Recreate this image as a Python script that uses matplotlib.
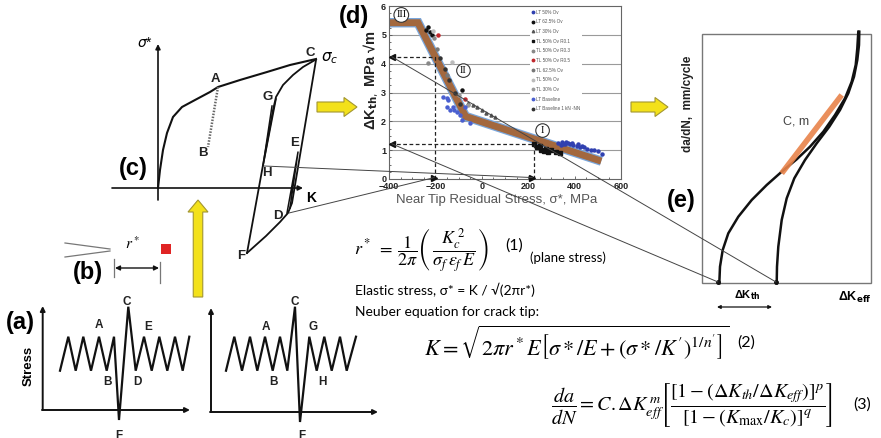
import matplotlib
matplotlib.use('Agg')
import matplotlib.pyplot as plt
from matplotlib.patches import FancyArrow, Rectangle, ConnectionPatch

plt.rcParams['font.family'] = ['Liberation Sans', 'DejaVu Sans']
plt.rcParams['mathtext.fontset'] = 'dejavusans'

W, H = 881, 438

# ---------------- (d) data ----------------
x_ticks = [-400, -200, 0, 200, 400, 600]
y_ticks = [0, 1, 2, 3, 4, 5, 6]
grid_levels = [1, 2, 3, 4, 5]
fit_x = [-400, -275, -70, 515]
fit_y = [5.42, 5.42, 2.17, 0.62]

lt50_x = [330, 345, 360, 370, 380, 395, 410, 425, 440, 455, 470, 485, 500, 520, 350, 365, 390, 415, 340, 430]
lt50_y = [1.25, 1.28, 1.22, 1.26, 1.20, 1.18, 1.15, 1.12, 1.10, 1.05, 1.02, 1.00, 0.98, 0.88, 1.20, 1.30, 1.24, 1.20, 1.18, 1.16]
lt625_x = [-231, -222, -214, -240, -84]
lt625_y = [5.28, 5.10, 4.99, 5.18, 3.09]
lt30_x = [-58, -40, -20, 0, 20, 40, 59]
lt30_y = [2.64, 2.58, 2.48, 2.40, 2.30, 2.22, 2.15]
tl50r01_x = [225, 240, 255, 268, 285, 300, 318, 335, 250, 278]
tl50r01_y = [1.20, 1.10, 1.02, 0.96, 0.92, 1.00, 0.95, 0.90, 1.15, 1.05]
tl50r03_x = [-231, -205]
tl50r03_y = [4.03, 4.90]
tl50r05_x = [-188, -72]
tl50r05_y = [5.00, 2.78]
tl625_x = [-195, -150]
tl625_y = [4.50, 3.60]
tl50_x = [-127, -210]
tl50_y = [4.06, 5.15]
tl30_x = [-100, -60]
tl30_y = [2.90, 2.55]
ltbase_x = [-166, -149, -123, -136, -106, -93, -86, -50, -72, -144, -151, -120]
ltbase_y = [2.85, 2.81, 2.50, 2.40, 2.33, 2.22, 2.05, 1.94, 2.51, 2.75, 2.51, 2.40]
ltbase1k_x = [-180, -160, -140, -115, -95]
ltbase1k_y = [4.20, 3.80, 3.45, 3.00, 2.60]

series = [
    ('LT 50% Ov', lt50_x, lt50_y, '#3040b0', 'o'),
    ('LT 62.5% Ov', lt625_x, lt625_y, '#111111', 'o'),
    ('LT 30% Ov', lt30_x, lt30_y, '#555555', '^'),
    ('TL 50% Ov R0.1', tl50r01_x, tl50r01_y, '#111111', 's'),
    ('TL 50% Ov R0.3', tl50r03_x, tl50r03_y, '#888888', 'o'),
    ('TL 50% Ov R0.5', tl50r05_x, tl50r05_y, '#c0282d', 'o'),
    ('TL 62.5% Ov', tl625_x, tl625_y, '#777777', 'o'),
    ('TL 50% Ov', tl50_x, tl50_y, '#bbbbbb', 'o'),
    ('TL 30% Ov', tl30_x, tl30_y, '#999999', 'o'),
    ('LT Baseline', ltbase_x, ltbase_y, '#4a5fd0', 'o'),
    ('LT Baseline 1 kN -NN', ltbase1k_x, ltbase1k_y, '#333333', 'o'),
]

regime_labels = ['III', 'II', 'I']
regime_x = [-347, -79, 262]
regime_y = [5.69, 3.76, 1.68]

# ---------------- schematic data (pixel units) ----------------
# (a) load histories
lo_a, hi_a, c_a, f_a = 370.7, 336.7, 306.7, 420.0
a1_x = [60, 68.3, 75.7, 83.3, 91, 99, 106.7, 114, 119, 128.3, 135.7, 144, 151.7, 159.3, 167.3, 175, 182.7, 189.3]
a1_y = [lo_a, hi_a, lo_a, hi_a, lo_a, hi_a, lo_a, hi_a, f_a, c_a, lo_a, hi_a, lo_a, hi_a, lo_a, hi_a, lo_a, hi_a]
a2_x = [226, 234.3, 242, 250, 257.3, 265, 272.7, 280, 287.3, 295, 300, 309.3, 316.7, 324.3, 331.7, 340, 346.7, 356]
a2_y = [lo_a, hi_a, lo_a, hi_a, lo_a, hi_a, lo_a, hi_a, lo_a, c_a, f_a + 2, hi_a, lo_a, hi_a, lo_a, hi_a, lo_a, hi_a]

# (c) crack-tip stress vs K
c_mono_x = [158, 160, 163, 167, 173, 182, 195, 210, 218, 240, 267, 290, 316]
c_mono_y = [188, 170, 150, 133, 117, 107, 100, 92, 87, 80, 72, 65, 59]
c_ab_x = [218, 208]
c_ab_y = [87, 147]
c_unload_x = [316, 292, 288, 280, 266, 247]
c_unload_y = [60, 203, 213, 222, 236, 253]
c_reload_x = [247, 273, 276, 283, 293, 303, 315]
c_reload_y = [253, 110, 97, 85, 75, 67, 60]
c_gh_x = [276, 263, 272]
c_gh_y = [99, 166, 106]
c_ed_x = [287, 298, 290]
c_ed_y = [213, 152, 208]

# (e) crack growth curves
e_left_x = [719.3, 720, 722.7, 728.3, 738.3, 751.7, 766.7, 781.7, 796.7, 810, 823.3, 835, 845, 851.7, 855.7, 857.3, 858.3]
e_left_y = [283.3, 266.7, 250, 233.3, 216.7, 200, 185, 171.7, 159.3, 146.7, 131.7, 115, 98.3, 81.7, 65, 48.3, 31.7]
e_right_x = [776.7, 777, 778.3, 781.7, 786.7, 794.3, 805, 816.7, 829.3, 840, 848.3, 854, 857.3, 859, 859.3]
e_right_y = [283.3, 266.7, 246.7, 220, 198.3, 178.3, 160, 143.3, 126.7, 110, 93.3, 76.7, 60, 45, 31.7]
e_fit_x = [781.7, 841.7]
e_fit_y = [173.3, 95]

fig = plt.figure(figsize=(8.81, 4.38), dpi=100)
fig.patch.set_facecolor('white')


def fig_rect(x0, y0, x1, y1):
    return [x0 / W, 1 - y1 / H, (x1 - x0) / W, (y1 - y0) / H]


# ================= panel (d) =================
axd = fig.add_axes(fig_rect(389, 6, 621, 179))
axd.set_xlim(-400, 600)
axd.set_ylim(0, 6)
for g in grid_levels:
    axd.axhline(g, color='#9a9a9a', lw=0.8, zorder=0)
axd.plot(fit_x, fit_y, color='#7aa7dc', lw=6.8, solid_capstyle='butt', solid_joinstyle='miter', zorder=2)
axd.plot(fit_x, fit_y, color='#a3683e', lw=5.0, solid_capstyle='butt', solid_joinstyle='miter', zorder=2.1)
handles = []
for name, xs, ys, col, mk in series:
    h, = axd.plot(xs, ys, linestyle='none', marker=mk, ms=2.2, color=col, mec=col, label=name, zorder=3)
    handles.append(h)
axd.set_xticks(x_ticks)
axd.set_yticks(y_ticks)
axd.set_xticks(range(-400, 601, 50), minor=True)
axd.set_yticks([i * 0.25 for i in range(25)], minor=True)
axd.tick_params(which='both', direction='in', length=2.5, width=0.6, colors='#555555')
axd.tick_params(which='minor', length=1.5)
axd.tick_params(axis='x', pad=2.5)
axd.tick_params(axis='y', pad=2)
for lab in axd.get_xticklabels() + axd.get_yticklabels():
    lab.set_fontsize(6.5)
    lab.set_fontweight('bold')
    lab.set_color('#222222')
for sp in axd.spines.values():
    sp.set_color('#666666')
    sp.set_linewidth(0.8)
leg = axd.legend(handles=handles, loc='upper left', bbox_to_anchor=(0.608, 0.99), fontsize=3.3,
                 frameon=True, facecolor='white', edgecolor='none', framealpha=1, handlelength=0.6,
                 handletextpad=0.3, labelspacing=1.02, borderpad=0.4, markerscale=0.8, borderaxespad=0)
for t in leg.get_texts():
    t.set_color('#555555')
leg.set_zorder(4)
for lab, x, y in zip(regime_labels, regime_x, regime_y):
    axd.text(x, y, lab, fontsize=7.5, family='Liberation Serif', ha='center', va='center', zorder=6,
             bbox=dict(boxstyle='circle,pad=0.22', fc='white', ec='#333333', lw=0.8), clip_on=False)
# dashed guide lines
axd.plot([-200, -200, -395], [0, 4.24, 4.24], color='#222222', lw=0.9, ls=(0, (3, 2)), zorder=5)
axd.plot([225, 225, -395], [0, 1.22, 1.22], color='#222222', lw=0.9, ls=(0, (3, 2)), zorder=5)
axd.plot([-388, -388], [4.24, 1.22], linestyle='none', marker='<', ms=4, color='#111111', zorder=6, clip_on=False)
axd.plot([-205, 218], [0.05, 0.05], linestyle='none', marker='>', ms=4, color='#111111', zorder=6, clip_on=False)

# ================= overlay (pixel units) =================
ov = fig.add_axes([0, 0, 1, 1])
ov.set_xlim(0, W)
ov.set_ylim(H, 0)
ov.axis('off')
ov.patch.set_visible(False)
ov.set_zorder(5)

K = '#111111'


def arrow(x0, y0, x1, y1, lw=1.0, ms=7, color=K, style='-|>'):
    ov.annotate('', xy=(x1, y1), xytext=(x0, y0),
                arrowprops=dict(arrowstyle=style, lw=lw, color=color, mutation_scale=ms,
                                shrinkA=0, shrinkB=0))


# --- (a) ---
arrow(42.7, 410, 42.7, 306, lw=1.4, ms=7)
arrow(42, 410, 190, 410, lw=1.4, ms=7)
ov.plot(a1_x, a1_y, color=K, lw=1.6, solid_joinstyle='miter')
arrow(211, 412, 211, 308, lw=1.4, ms=7)
arrow(210, 412, 378, 412, lw=1.4, ms=7)
ov.plot(a2_x, a2_y, color=K, lw=1.6, solid_joinstyle='miter')
lab_a = [('A', 99, 325), ('B', 108, 382), ('C', 127, 302), ('E', 148, 327), ('D', 137, 382), ('F', 119, 436),
         ('A', 266, 327), ('B', 274, 382), ('C', 295, 302), ('G', 313, 327), ('H', 322, 382), ('F', 302, 436)]
for s, x, y in lab_a:
    ov.text(x, y, s, fontsize=8.5, fontweight='bold', ha='center', va='center', color='#222222')
ov.text(29, 366, 'Stress', rotation=90, fontsize=9.5, fontweight='bold', ha='center', va='center')
ov.text(20, 322, '(a)', fontsize=17, fontweight='bold', ha='center', va='center')

# --- (b) ---
ov.plot([65, 110], [243, 249], color='#777777', lw=0.9)
ov.plot([65, 110], [257, 251], color='#777777', lw=0.9)
ov.text(133, 244, r'$r^*$', fontsize=11, ha='center', va='center', math_fontfamily='stix')
ov.add_patch(Rectangle((161, 244), 10, 10, fc='#e02424', ec='none'))
ov.annotate('', xy=(159, 268), xytext=(115, 268),
            arrowprops=dict(arrowstyle='<|-|>', lw=1.0, color=K, mutation_scale=7, shrinkA=0, shrinkB=0))
ov.plot([114, 114], [259, 277], color='#777777', lw=0.9)
ov.plot([160, 160], [262, 283], color='#777777', lw=0.9)
ov.text(88, 272, '(b)', fontsize=17, fontweight='bold', ha='center', va='center')

# --- yellow arrows ---
yc = dict(fc='#f3e11a', ec='#a39630', lw=0.8, length_includes_head=True, zorder=2)
ov.add_patch(FancyArrow(198, 297, 0, -97, width=9.5, head_width=20, head_length=12, **yc))
ov.add_patch(FancyArrow(317, 107, 40, 0, width=10, head_width=19, head_length=13, **yc))
ov.add_patch(FancyArrow(631, 107, 37, 0, width=10, head_width=19, head_length=13, **yc))

# --- (c) ---
arrow(158, 200, 158, 44, lw=1.2, ms=7)
arrow(112, 188, 303, 188, lw=1.2, ms=7)
ov.plot(c_mono_x, c_mono_y, color=K, lw=1.5)
ov.plot(c_ab_x, c_ab_y, color='#666666', lw=1.8, ls=(0, (0.6, 0.6)))
ov.plot(c_unload_x, c_unload_y, color=K, lw=1.3)
ov.plot(c_reload_x, c_reload_y, color=K, lw=1.3)
ov.plot(c_gh_x, c_gh_y, color=K, lw=1.1)
ov.plot(c_ed_x, c_ed_y, color=K, lw=1.1)
lab_c = [('A', 215, 79), ('B', 203, 153), ('C', 310, 53), ('G', 268, 97), ('H', 267, 173),
         ('E', 295, 143), ('D', 278, 216), ('F', 241, 256)]
for s, x, y in lab_c:
    ov.text(x, y, s, fontsize=9.5, fontweight='bold', ha='center', va='center', color='#222222')
ov.text(330, 58, r'$\sigma_c$', fontsize=11, ha='center', va='center', math_fontfamily='dejavusans')
ov.text(311, 198, 'K', fontsize=10, fontweight='bold', ha='center', va='center')
ov.text(145, 43, r'$\sigma$*', fontsize=10, ha='center', va='center')
ov.text(133, 168, '(c)', fontsize=17, fontweight='bold', ha='center', va='center')

# --- (d) labels ---
ov.text(354, 16, '(d)', fontsize=17, fontweight='bold', ha='center', va='center')
ov.text(371, 80, r'ΔK$_{\mathbf{th},}$ MPa √m', rotation=90, fontsize=10.5, fontweight='bold',
        ha='center', va='center', color='#222222')
ov.text(497, 200, 'Near Tip Residual Stress, σ*, MPa', fontsize=9.5, ha='center', va='center',
        color='#555555')

# --- (e) ---
ov.add_patch(Rectangle((702, 34), 169, 249, fc='none', ec='#777777', lw=1.0))
ov.plot(e_left_x, e_left_y, color=K, lw=1.8)
ov.plot(e_right_x, e_right_y, color=K, lw=1.8)
ov.plot(e_fit_x, e_fit_y, color='#e8834a', lw=4, alpha=0.9, solid_capstyle='butt')
ov.text(796, 122, 'C, m', fontsize=9, ha='center', va='center', color='#444444')
ov.text(688, 104, 'da/dN,  mm/cycle', rotation=90, fontsize=8.5, fontweight='bold', ha='center', va='center',
        color='#222222')
ov.text(681, 200, '(e)', fontsize=17, fontweight='bold', ha='center', va='center')
ov.text(747, 295, r'ΔK$_{\mathbf{th}}$', fontsize=8, fontweight='bold', ha='center', va='center')
ov.annotate('', xy=(772, 307), xytext=(717, 307),
            arrowprops=dict(arrowstyle='<|-|>', lw=0.9, color=K, mutation_scale=5, shrinkA=0, shrinkB=0))
ov.text(838, 297, r'ΔK$_{\mathbf{eff}}$', fontsize=9, fontweight='bold', ha='left', va='center', clip_on=True)


# --- connecting thin lines ---
def link(xy_ov, xy_d):
    cp = ConnectionPatch(xyA=xy_ov, coordsA=ov.transData, xyB=xy_d, coordsB=axd.transData,
                         color='#444444', lw=0.7, zorder=6)
    fig.add_artist(cp)


link((264, 166), (218, 0.05))
link((289, 213), (-205, 0.05))
link((776, 282), (-388, 4.24))
link((718, 282), (-388, 1.22))
ov.plot([776, 718], [282, 282], linestyle='none', marker='o', ms=2.5, color=K)

# --- equations ---
ov.text(354, 250,
        r'$r^*\;=\;\dfrac{1}{2\pi}\left(\,\dfrac{K_c^{\,2}}{\sigma_f\,\varepsilon_f\,E}\,\right)$',
        fontsize=13, ha='left', va='center', math_fontfamily='stix')
ov.text(505, 246, '(1)', fontsize=11.5, family='Lato', ha='left', va='center')
ov.text(530, 258, '(plane stress)', fontsize=9.5, family='Lato', ha='left', va='center')
ov.text(355, 290, 'Elastic stress, σ* = K / √(2πr*)', fontsize=10, family=['Lato', 'DejaVu Sans'],
        ha='left', va='center')
ov.text(355, 312, 'Neuber equation for crack tip:', fontsize=10, family='Lato', ha='left', va='center')
ov.text(424, 343,
        r"$K = \sqrt{2\pi r^* E\left[\sigma * / E + \left(\sigma * / K^{\prime}\right)^{1/n^{\prime}}\right]}$",
        fontsize=16, ha='left', va='center', math_fontfamily='stix')
ov.text(737, 343, '(2)', fontsize=11.5, family='Lato', ha='left', va='center')
ov.text(551, 405,
        r'$\dfrac{da}{dN} = C.\Delta K_{eff}^{\,m}\left[\dfrac{[1-(\Delta K_{th}/\Delta K_{eff})]^{p}}{[1-(K_{\max}/K_c)]^{q}}\right]$',
        fontsize=14.5, ha='left', va='center', math_fontfamily='stix')
ov.text(853, 405, '(3)', fontsize=11.5, family='Lato', ha='left', va='center')

fig.savefig('out.png', dpi=100, facecolor='white')
